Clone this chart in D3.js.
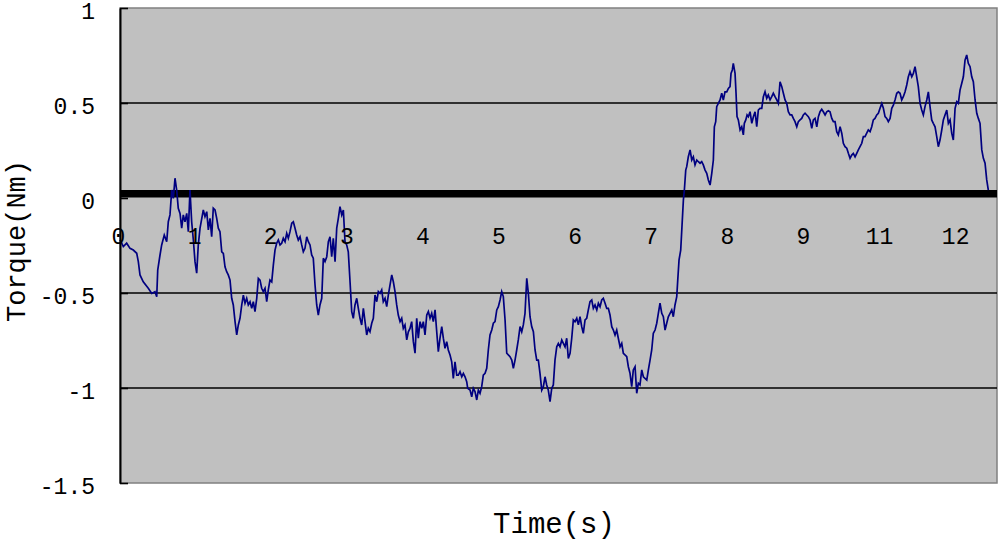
<!DOCTYPE html>
<html><head><meta charset="utf-8">
<script src="https://cdn.jsdelivr.net/npm/d3@7"></script>
<style>body{margin:0;background:#fff}svg{display:block}</style>
</head><body><svg id="c" width="1000" height="542"></svg>
<script>
// Time (axis units) of each sample
const time = [
0.026,0.039,0.070,0.114,0.158,0.201,0.246,0.267,0.289,0.332,0.398,0.443,0.486,0.509,0.522,0.552,0.574,0.608,0.640,0.661,
0.683,0.706,0.727,0.749,0.771,0.792,0.815,0.837,0.858,0.880,0.903,0.924,0.946,0.968,0.990,1.012,1.034,1.055,1.078,1.121,
1.143,1.166,1.187,1.209,1.231,1.252,1.275,1.297,1.318,1.340,1.363,1.384,1.406,1.428,1.449,1.472,1.494,1.515,1.538,1.560,
1.581,1.603,1.626,1.647,1.669,1.691,1.712,1.735,1.757,1.778,1.800,1.823,1.844,1.866,1.888,1.909,1.932,1.954,1.975,1.997,
2.020,2.041,2.063,2.085,2.107,2.129,2.151,2.172,2.195,2.217,2.238,2.260,2.283,
2.304,2.326,2.348,2.369,2.392,2.414,2.435,2.457,2.480,2.501,2.523,2.545,2.566,2.589,2.611,2.632,2.654,2.677,2.698,2.720,
2.743,2.764,2.786,2.808,2.829,2.852,2.874,2.895,2.917,2.940,2.961,2.983,3.005,3.026,3.049,3.071,3.092,3.114,3.137,3.158,
3.180,3.202,3.224,3.246,3.268,3.289,3.311,3.334,3.355,3.377,3.400,3.421,3.443,3.465,3.486,3.509,3.531,3.552,3.574,3.597,
3.618,3.640,3.662,3.683,3.706,3.728,3.749,3.771,3.794,3.815,3.837,3.859,3.881,3.903,3.925,3.946,3.969,3.991,4.012,4.034,
4.057,4.078,4.100,4.122,4.143,4.166,4.188,4.209,4.231,4.254,4.275,4.297,4.319,4.340,4.363,4.385,4.406,4.428,4.451,4.472,
4.494,4.517,4.538,4.560,4.582,
4.595,4.626,4.648,4.669,4.691,4.714,4.735,4.757,4.779,4.800,4.823,4.845,4.866,4.888,4.911,4.932,4.954,4.977,4.998,5.020,
5.042,5.063,5.086,5.108,5.129,5.151,5.174,5.195,5.217,5.239,5.260,5.283,5.305,5.326,5.348,5.371,5.392,5.414,5.436,5.458,
5.480,5.502,5.523,5.545,5.568,5.589,5.611,5.633,5.654,5.677,5.699,5.720,5.742,5.765,5.786,5.808,5.831,5.852,5.874,5.896,
5.917,5.940,5.962,5.983,6.005,6.028,6.049,6.071,6.093,6.114,6.137,6.159,6.180,6.202,6.225,6.246,6.268,6.291,6.312,6.334,
6.356,6.377,6.400,6.422,6.443,6.465,6.488,6.509,6.531,6.553,6.574,6.597,6.619,6.640,6.662,6.685,6.706,6.728,6.750,6.771,
6.794,6.816,6.837,6.859,6.882,6.903,
6.948,6.969,6.991,7.013,7.034,7.057,7.079,7.100,7.122,7.145,7.166,7.188,7.210,7.231,7.254,7.276,7.297,7.319,7.342,7.355,
7.372,7.394,7.429,7.442,7.460,7.473,7.494,7.517,7.539,7.560,7.582,7.605,7.626,7.648,7.670,7.691,7.714,7.736,7.757,7.780,
7.802,7.823,7.836,7.854,7.867,7.888,7.911,7.933,7.954,7.976,7.999,8.020,8.042,8.055,8.072,8.085,8.108,8.121,8.134,8.151,
8.174,8.196,8.217,8.230,8.249,8.266,8.283,8.305,8.328,8.349,8.371,8.393,8.414,8.436,8.459,8.480,8.502,8.524,8.545,8.568,
8.590,8.611,8.633,8.656,8.677,8.699,8.722,8.743,8.765,8.787,8.808,8.831,8.853,8.874,8.896,8.919,8.940,8.962,8.984,9.005,
9.028,9.050,9.071,9.093,
9.116,9.137,9.159,9.182,9.203,9.225,9.247,9.268,9.291,9.313,9.334,9.356,9.379,9.400,9.422,9.444,9.465,9.488,9.510,9.531,
9.553,9.576,9.597,9.619,9.641,9.662,9.685,9.707,9.728,9.750,9.773,9.794,9.816,9.838,9.859,9.882,9.904,9.925,9.947,9.970,
9.991,10.013,10.036,10.057,10.079,10.101,10.122,10.145,10.167,10.188,10.210,10.233,10.254,10.276,10.298,10.319,10.342,10.364,10.385,10.407,
10.430,10.451,10.473,10.495,10.516,10.539,10.561,10.582,10.604,10.627,10.648,10.670,10.692,10.713,10.736,10.758,10.779,10.801,10.824,10.845,
10.867,10.890,10.911,10.933,10.955,10.976,10.999,11.021,11.042,11.064,11.087,11.108,11.130,11.152,11.173,11.196,11.218,11.239,11.262,11.284,
11.305,11.327,11.350,11.371,11.393,11.415,11.436
];
// Torque (Nm) of each sample
const torque = [
-0.220,-0.230,-0.256,-0.238,-0.265,-0.274,-0.291,-0.335,-0.405,-0.441,-0.475,-0.502,-0.493,-0.519,-0.379,-0.300,-0.247,-0.195,-0.230,-0.125,
-0.089,0.042,-0.002,0.104,0.042,-0.054,-0.081,-0.159,-0.089,-0.125,-0.081,-0.177,0.042,-0.125,-0.221,-0.335,-0.396,-0.247,-0.159,-0.063,
-0.098,-0.072,-0.168,-0.107,-0.204,-0.054,-0.063,-0.107,-0.159,-0.177,-0.283,-0.291,-0.362,-0.388,-0.405,-0.432,-0.528,-0.563,-0.651,-0.721,
-0.668,-0.633,-0.563,-0.511,-0.554,-0.528,-0.563,-0.546,-0.581,-0.546,-0.598,-0.528,-0.423,-0.432,-0.475,-0.493,-0.475,-0.546,-0.484,-0.432,
-0.441,-0.353,-0.274,-0.238,-0.221,-0.247,-0.238,-0.212,-0.230,-0.186,-0.212,-0.177,-0.133,
-0.125,-0.159,-0.195,-0.221,-0.204,-0.247,-0.283,-0.265,-0.204,-0.230,-0.247,-0.300,-0.317,-0.458,-0.563,-0.616,-0.563,-0.528,-0.317,-0.335,
-0.309,-0.230,-0.204,-0.309,-0.212,-0.335,-0.159,-0.107,-0.046,-0.089,-0.063,-0.230,-0.247,-0.283,-0.441,-0.598,-0.633,-0.563,-0.528,-0.581,
-0.633,-0.668,-0.581,-0.651,-0.721,-0.686,-0.704,-0.659,-0.633,-0.511,-0.546,-0.493,-0.502,-0.484,-0.546,-0.528,-0.572,-0.511,-0.458,-0.405,
-0.441,-0.493,-0.563,-0.616,-0.651,-0.633,-0.686,-0.668,-0.747,-0.704,-0.686,-0.651,-0.756,-0.817,-0.633,-0.738,-0.651,-0.686,-0.651,-0.721,
-0.616,-0.598,-0.633,-0.607,-0.651,-0.589,-0.704,-0.809,-0.738,-0.677,-0.738,-0.791,-0.756,-0.800,-0.826,-0.862,-0.949,-0.862,-0.932,-0.932,
-0.914,-0.941,-0.923,-0.941,-0.967,
-1.002,-1.011,-1.046,-1.002,-1.019,-1.063,-1.011,-1.028,-0.993,-0.932,-0.923,-0.896,-0.800,-0.721,-0.695,-0.659,-0.651,-0.589,-0.572,-0.537,
-0.493,-0.519,-0.642,-0.817,-0.826,-0.835,-0.853,-0.896,-0.853,-0.800,-0.747,-0.677,-0.704,-0.668,-0.607,-0.423,-0.502,-0.625,-0.677,-0.704,
-0.800,-0.853,-0.853,-0.923,-1.011,-0.993,-0.941,-0.984,-1.011,-1.072,-1.002,-0.984,-0.853,-0.783,-0.765,-0.783,-0.747,-0.765,-0.783,-0.738,
-0.844,-0.817,-0.738,-0.642,-0.651,-0.633,-0.668,-0.625,-0.677,-0.712,-0.642,-0.633,-0.589,-0.546,-0.537,-0.581,-0.563,-0.589,-0.554,-0.572,
-0.537,-0.528,-0.554,-0.581,-0.581,-0.616,-0.677,-0.695,-0.721,-0.695,-0.738,-0.783,-0.765,-0.817,-0.826,-0.835,-0.888,-0.923,-0.993,-0.905,
-0.888,-1.028,-0.975,-0.984,-0.905,-0.941,
-0.958,-0.905,-0.853,-0.800,-0.712,-0.695,-0.659,-0.607,-0.554,-0.607,-0.625,-0.695,-0.659,-0.625,-0.607,-0.589,-0.625,-0.563,-0.519,-0.432,
-0.326,-0.274,-0.011,0.042,0.147,0.165,0.217,0.253,0.200,0.217,0.174,0.200,0.191,0.183,0.191,0.174,0.147,0.130,0.095,0.068,
0.130,0.200,0.375,0.402,0.481,0.498,0.516,0.551,0.516,0.559,0.559,0.577,0.586,0.656,0.674,0.709,0.656,0.551,0.428,0.411,
0.358,0.375,0.332,0.393,0.411,0.437,0.428,0.454,0.393,0.428,0.454,0.375,0.463,0.472,0.472,0.533,0.559,0.525,0.542,0.516,
0.533,0.551,0.533,0.516,0.498,0.612,0.586,0.551,0.516,0.498,0.454,0.437,0.437,0.419,0.402,0.375,0.402,0.411,0.419,0.437,
0.446,0.437,0.428,0.411,
0.367,0.411,0.419,0.375,0.428,0.454,0.467,0.454,0.437,0.454,0.459,0.454,0.419,0.402,0.402,0.349,0.332,0.375,0.341,0.288,
0.270,0.262,0.235,0.209,0.226,0.235,0.217,0.235,0.253,0.270,0.288,0.323,0.323,0.341,0.358,0.349,0.375,0.411,0.419,0.437,
0.446,0.472,0.498,0.472,0.428,0.419,0.402,0.419,0.472,0.489,0.516,0.551,0.559,0.551,0.516,0.533,0.559,0.595,0.638,0.665,
0.638,0.656,0.691,0.638,0.586,0.498,0.463,0.437,0.481,0.516,0.559,0.481,0.411,0.393,0.375,0.323,0.270,0.305,0.358,0.411,
0.437,0.463,0.393,0.411,0.341,0.305,0.472,0.507,0.498,0.568,0.604,0.638,0.726,0.753,0.709,0.691,0.638,0.612,0.516,0.446,
0.419,0.393,0.253,0.209,0.183,0.095,0.042
];
const xTickValues = [0,1,2,3,4,5,6,7,8,9,10,11];
const xTickLabels = ["0","1","2","3","4","5","6","7","8","9","11","12"];
const yTickValues = [1,0.5,0,-0.5,-1,-1.5];
const yGridValues = [0.5,-0.5,-1];
const xTitle = "Time(s)";
const yTitle = "Torque(Nm)";

const W = 1000, H = 542;
const L = 120, R = 997, T = 8, B = 483;
const FONT = "'Liberation Mono','DejaVu Sans Mono',monospace";

const svg = d3.select("#c");
const x = d3.scaleLinear().domain([0, 11.55]).range([118, 997]);
const y = d3.scaleLinear().domain([-1.5, 1]).range([B, T]);

svg.append("rect").attr("width", W).attr("height", H).attr("fill", "#fff");

// plot area
svg.append("rect").attr("x", L).attr("y", T).attr("width", R - L).attr("height", B - T)
  .attr("fill", "#c0c0c0").attr("stroke", "#808080").attr("stroke-width", 1.5);

// gridlines
svg.append("g").selectAll("line").data(yGridValues).join("line")
  .attr("x1", L).attr("x2", R).attr("y1", d => y(d)).attr("y2", d => y(d))
  .attr("stroke", "#000").attr("stroke-width", 1.6);

// heavy zero line
svg.append("rect").attr("x", L).attr("width", R - L)
  .attr("y", y(0) - 8).attr("height", 7.5).attr("fill", "#000");

// series
const pts = d3.zip(time, torque);
svg.append("path").datum(pts)
  .attr("fill", "none").attr("stroke", "#000080").attr("stroke-width", 1.7)
  .attr("stroke-linejoin", "miter")
  .attr("d", d3.line().x(d => x(d[0])).y(d => y(d[1])));

// y axis
const yAxis = svg.append("g").attr("transform", `translate(${L},0)`)
  .call(d3.axisLeft(y).tickValues(yTickValues).tickSize(-8).tickSizeOuter(0)
    .tickPadding(25).tickFormat(d => String(d)));
yAxis.select(".domain").attr("stroke", "#000").attr("stroke-width", 2);
yAxis.selectAll(".tick line").attr("stroke", "#000").attr("stroke-width", 1.6);
yAxis.selectAll("text").attr("font-family", FONT).attr("font-size", 23)
  .attr("fill", "#000").attr("y", 3);

// x axis labels (category style)
const xAxis = svg.append("g").attr("transform", `translate(0,236)`)
  .call(d3.axisBottom(x).tickValues(xTickValues).tickSize(0).tickPadding(0)
    .tickFormat((d, i) => xTickLabels[i]));
xAxis.select(".domain").remove();
xAxis.selectAll("text").attr("font-family", FONT).attr("font-size", 23)
  .attr("fill", "#000").attr("y", 0).attr("dy", "0.35em");

// titles
svg.append("text").attr("x", 554).attr("y", 533).attr("text-anchor", "middle")
  .attr("font-family", FONT).attr("font-size", 29).attr("fill", "#000").text(xTitle);
svg.append("text").attr("transform", "translate(25,241) rotate(-90)").attr("text-anchor", "middle")
  .attr("font-family", FONT).attr("font-size", 27).attr("fill", "#000").text(yTitle);
</script></body></html>
